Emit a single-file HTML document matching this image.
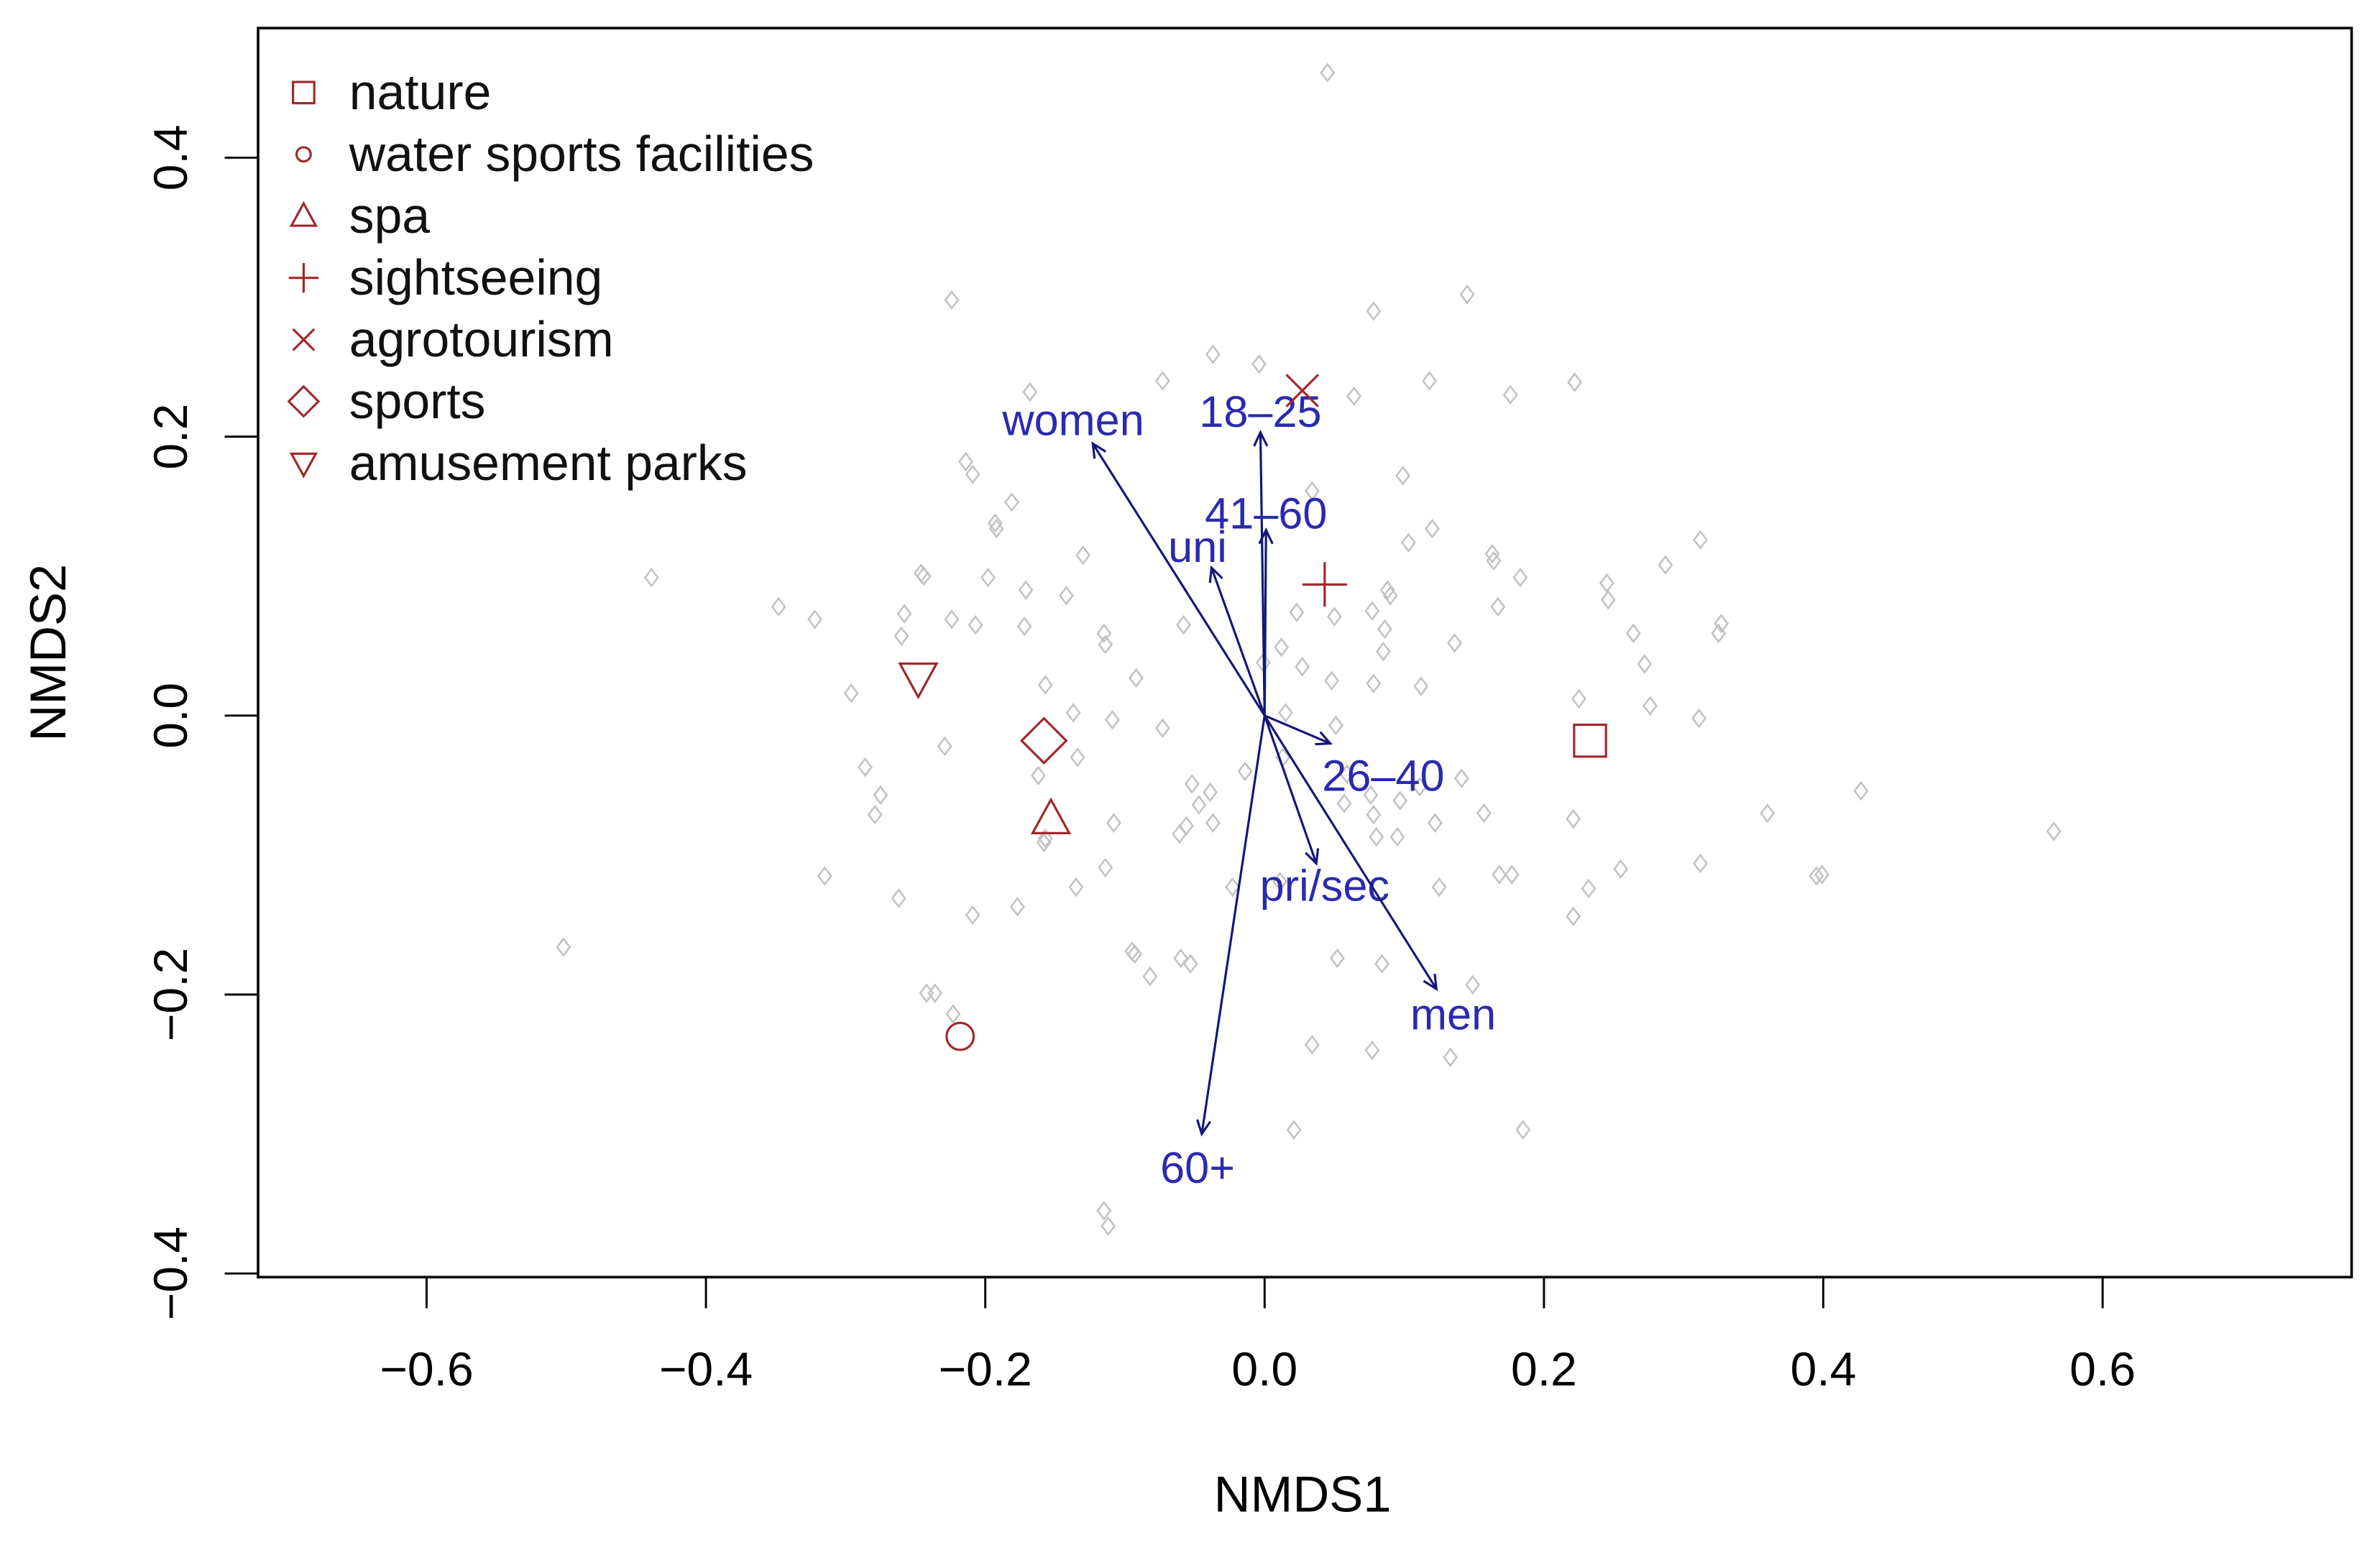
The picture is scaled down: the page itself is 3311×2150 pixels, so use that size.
<!DOCTYPE html>
<html><head><meta charset="utf-8"><style>
html,body{margin:0;padding:0;background:#fff}
svg{display:block}
text{font-family:"Liberation Sans",sans-serif}
</style></head><body>
<svg id="chart" width="3311" height="2150" viewBox="0 0 1567.7 1018" preserveAspectRatio="none" xmlns="http://www.w3.org/2000/svg">
<rect x="170" y="18.5" width="1379" height="823" fill="none" stroke="#000" stroke-width="1.7"/>
<g id="axes"></g>
<g id="pts"></g>
<g id="arrows"></g>
<g id="cents"></g>
<g id="legend"></g>
<text x="858" y="996" font-size="33.4" text-anchor="middle">NMDS1</text>
<text transform="translate(43,430) rotate(-90)" font-size="33.4" text-anchor="middle">NMDS2</text>
</svg>
<script>
const xTicks=[-0.6,-0.4,-0.2,0.0,0.2,0.4,0.6];
const yTicks=[-0.4,-0.2,0.0,0.2,0.4];
const siteX=[0.045,0.145,-0.224,0.078,-0.037,-0.004,-0.073,0.118,0.222,-0.168,0.064,0.176,-0.214,-0.209,0.099,0.034,-0.181,-0.193,-0.192,0.120,0.312,-0.130,0.103,0.163,0.164,0.287,-0.439,-0.246,-0.244,-0.198,-0.171,0.183,0.245,0.088,0.090,0.246,-0.348,-0.322,-0.258,-0.224,-0.142,0.167,0.023,0.050,0.077,-0.207,-0.172,-0.115,-0.260,-0.114,-0.058,0.086,0.264,0.327,0.325,0.012,0.136,0.085,0.272,-0.296,-0.157,-0.092,-0.001,0.027,0.048,0.078,0.112,0.225,0.276,0.311,-0.137,-0.109,-0.073,0.015,0.051,-0.229,-0.286,-0.275,-0.279,-0.134,-0.162,-0.052,-0.039,-0.047,-0.014,0.013,0.059,0.076,0.097,0.111,0.141,0.157,0.122,0.221,0.360,0.427,0.565,-0.108,-0.061,-0.056,-0.037,0.057,0.078,0.080,0.095,-0.157,-0.158,0.255,0.312,-0.114,-0.177,-0.209,-0.315,-0.262,-0.135,-0.023,0.011,0.125,0.168,0.177,0.232,0.221,0.395,0.399,-0.502,-0.095,-0.093,-0.082,-0.060,-0.053,0.052,0.084,0.149,-0.242,-0.236,-0.223,0.034,0.077,0.133,0.021,0.185,-0.115,-0.112];
const siteY=[0.461,0.302,0.298,0.290,0.259,0.252,0.240,0.240,0.239,0.232,0.229,0.230,0.182,0.173,0.172,0.161,0.153,0.138,0.134,0.134,0.126,0.115,0.124,0.116,0.111,0.108,0.099,0.102,0.100,0.099,0.090,0.099,0.095,0.090,0.086,0.083,0.078,0.069,0.073,0.069,0.086,0.078,0.074,0.071,0.075,0.065,0.064,0.059,0.057,0.051,0.065,0.062,0.059,0.066,0.059,0.049,0.052,0.046,0.037,0.016,0.022,0.027,0.038,0.035,0.025,0.023,0.021,0.012,0.007,-0.002,0.002,-0.003,-0.009,0.002,-0.007,-0.022,-0.037,-0.057,-0.071,-0.030,-0.043,-0.049,-0.055,-0.064,-0.040,-0.030,-0.042,-0.057,-0.061,-0.051,-0.045,-0.070,-0.077,-0.074,-0.070,-0.054,-0.083,-0.077,-0.085,-0.079,-0.077,-0.063,-0.071,-0.087,-0.087,-0.088,-0.091,-0.110,-0.106,-0.109,-0.137,-0.143,-0.115,-0.131,-0.123,-0.123,-0.119,-0.123,-0.114,-0.114,-0.124,-0.144,-0.115,-0.114,-0.166,-0.169,-0.171,-0.187,-0.174,-0.178,-0.174,-0.178,-0.193,-0.199,-0.199,-0.214,-0.236,-0.240,-0.245,-0.297,-0.297,-0.355,-0.366];
const centNames=["nature","water sports facilities","spa","sightseeing","agrotourism","sports","amusement parks"];
const centX=[0.233,-0.218,-0.153,0.043,0.027,-0.158,-0.248];
const centY=[-0.018,-0.230,-0.074,0.094,0.233,-0.018,0.027];
const vecNames=["women","18\u201325","41\u201360","uni","26\u201340","pri/sec","men","60+"];
const vecX=[-0.123,-0.003,0.001,-0.038,0.047,0.037,0.123,-0.045];
const vecY=[0.195,0.203,0.133,0.106,-0.020,-0.106,-0.196,-0.300];
const labX=[-0.137,-0.003,0.001,-0.048,0.085,0.043,0.135,-0.048];
const labY=[0.212,0.218,0.145,0.121,-0.043,-0.122,-0.214,-0.324];

const NS="http://www.w3.org/2000/svg";
const sx=v=>833+v*920, sy=v=>471.5-v*919;
function mk(tag,attrs,parent,txt){const e=document.createElementNS(NS,tag);for(const k in attrs)e.setAttribute(k,attrs[k]);if(txt!==undefined)e.textContent=txt;parent.appendChild(e);return e;}
const axes=document.getElementById('axes');
xTicks.forEach(t=>{
  const l=mk('line',{x1:sx(t),x2:sx(t),y1:841.5,y2:862,stroke:'#000','stroke-width':1.4},axes);
  
  
  const s=mk('text',{x:sx(t),y:913,'font-size':31.3,'text-anchor':'middle'},axes,(t<0?'\u2212':'')+Math.abs(t).toFixed(1));
  
  
});
yTicks.forEach(t=>{
  const l=mk('line',{x1:148,x2:170,y1:sy(t),y2:sy(t),stroke:'#000','stroke-width':1.4},axes);
  
  
  const s=mk('text',{transform:`translate(123,${sy(t)}) rotate(-90)`,'font-size':31.3,'text-anchor':'middle'},axes,(t<0?'\u2212':'')+Math.abs(t).toFixed(1));
  
  
});
const pts=document.getElementById('pts');
siteX.forEach((x,i)=>{
  const cx=sx(x),cy=sy(siteY[i]);
  const p=mk('path',{d:`M${cx} ${cy-5.5}L${cx+4.2} ${cy}L${cx} ${cy+5.5}L${cx-4.2} ${cy}Z`,fill:'none',stroke:'#c2c2c2','stroke-width':1.2},pts);
  
  
});
const red='#a0282c';
function sym(k,cx,cy,r,parent){
  let e;
  if(k===0)e=mk('rect',{x:cx-r,y:cy-r,width:2*r,height:2*r,fill:'none',stroke:red,'stroke-width':1.5},parent);
  else if(k===1)e=mk('circle',{cx:cx,cy:cy,r:r*0.85,fill:'none',stroke:red,'stroke-width':1.5},parent);
  else if(k===2)e=mk('path',{d:`M${cx} ${cy-r*1.2}L${cx+r*1.15} ${cy+r*0.9}L${cx-r*1.15} ${cy+r*0.9}Z`,fill:'none',stroke:red,'stroke-width':1.5},parent);
  else if(k===3)e=mk('path',{d:`M${cx-r*1.4} ${cy}H${cx+r*1.4}M${cx} ${cy-r*1.4}V${cy+r*1.4}`,fill:'none',stroke:red,'stroke-width':1.5},parent);
  else if(k===4)e=mk('path',{d:`M${cx-r} ${cy-r}L${cx+r} ${cy+r}M${cx-r} ${cy+r}L${cx+r} ${cy-r}`,fill:'none',stroke:red,'stroke-width':1.5},parent);
  else if(k===5)e=mk('path',{d:`M${cx} ${cy-r*1.4}L${cx+r*1.4} ${cy}L${cx} ${cy+r*1.4}L${cx-r*1.4} ${cy}Z`,fill:'none',stroke:red,'stroke-width':1.5},parent);
  else e=mk('path',{d:`M${cx} ${cy+r*1.2}L${cx+r*1.15} ${cy-r*0.9}L${cx-r*1.15} ${cy-r*0.9}Z`,fill:'none',stroke:red,'stroke-width':1.5},parent);
  return e;
}
const cents=document.getElementById('cents');
centX.forEach((x,i)=>{
  const e=sym(i,sx(x),sy(centY[i]),10.5,cents);
  
  
});
const leg=document.getElementById('legend');
centNames.forEach((n,i)=>{
  const y=61+i*40.7;
  const e=sym(i,200,y,i===1?5.5:7,leg);
  
  
  const t=mk('text',{x:230,y:y+11,'font-size':33,fill:'#111'},leg,n);
  
  
});
const arr=document.getElementById('arrows');
const ox=sx(0),oy=sy(0);
vecX.forEach((x,i)=>{
  const ex=sx(x),ey=sy(vecY[i]);
  const a=Math.atan2(ey-oy,ex-ox),h=10,w=0.45;
  const l=mk('path',{d:`M${ox} ${oy}L${ex} ${ey}M${ex-h*Math.cos(a-w)} ${ey-h*Math.sin(a-w)}L${ex} ${ey}L${ex-h*Math.cos(a+w)} ${ey-h*Math.sin(a+w)}`,fill:'none',stroke:'#16167a','stroke-width':1.5},arr);
  
  
  const t=mk('text',{x:sx(labX[i]),y:sy(labY[i])+10,'font-size':29,'text-anchor':'middle',fill:'#2a2ab0'},arr,vecNames[i]);
  
  
});
</script>
</body></html>
